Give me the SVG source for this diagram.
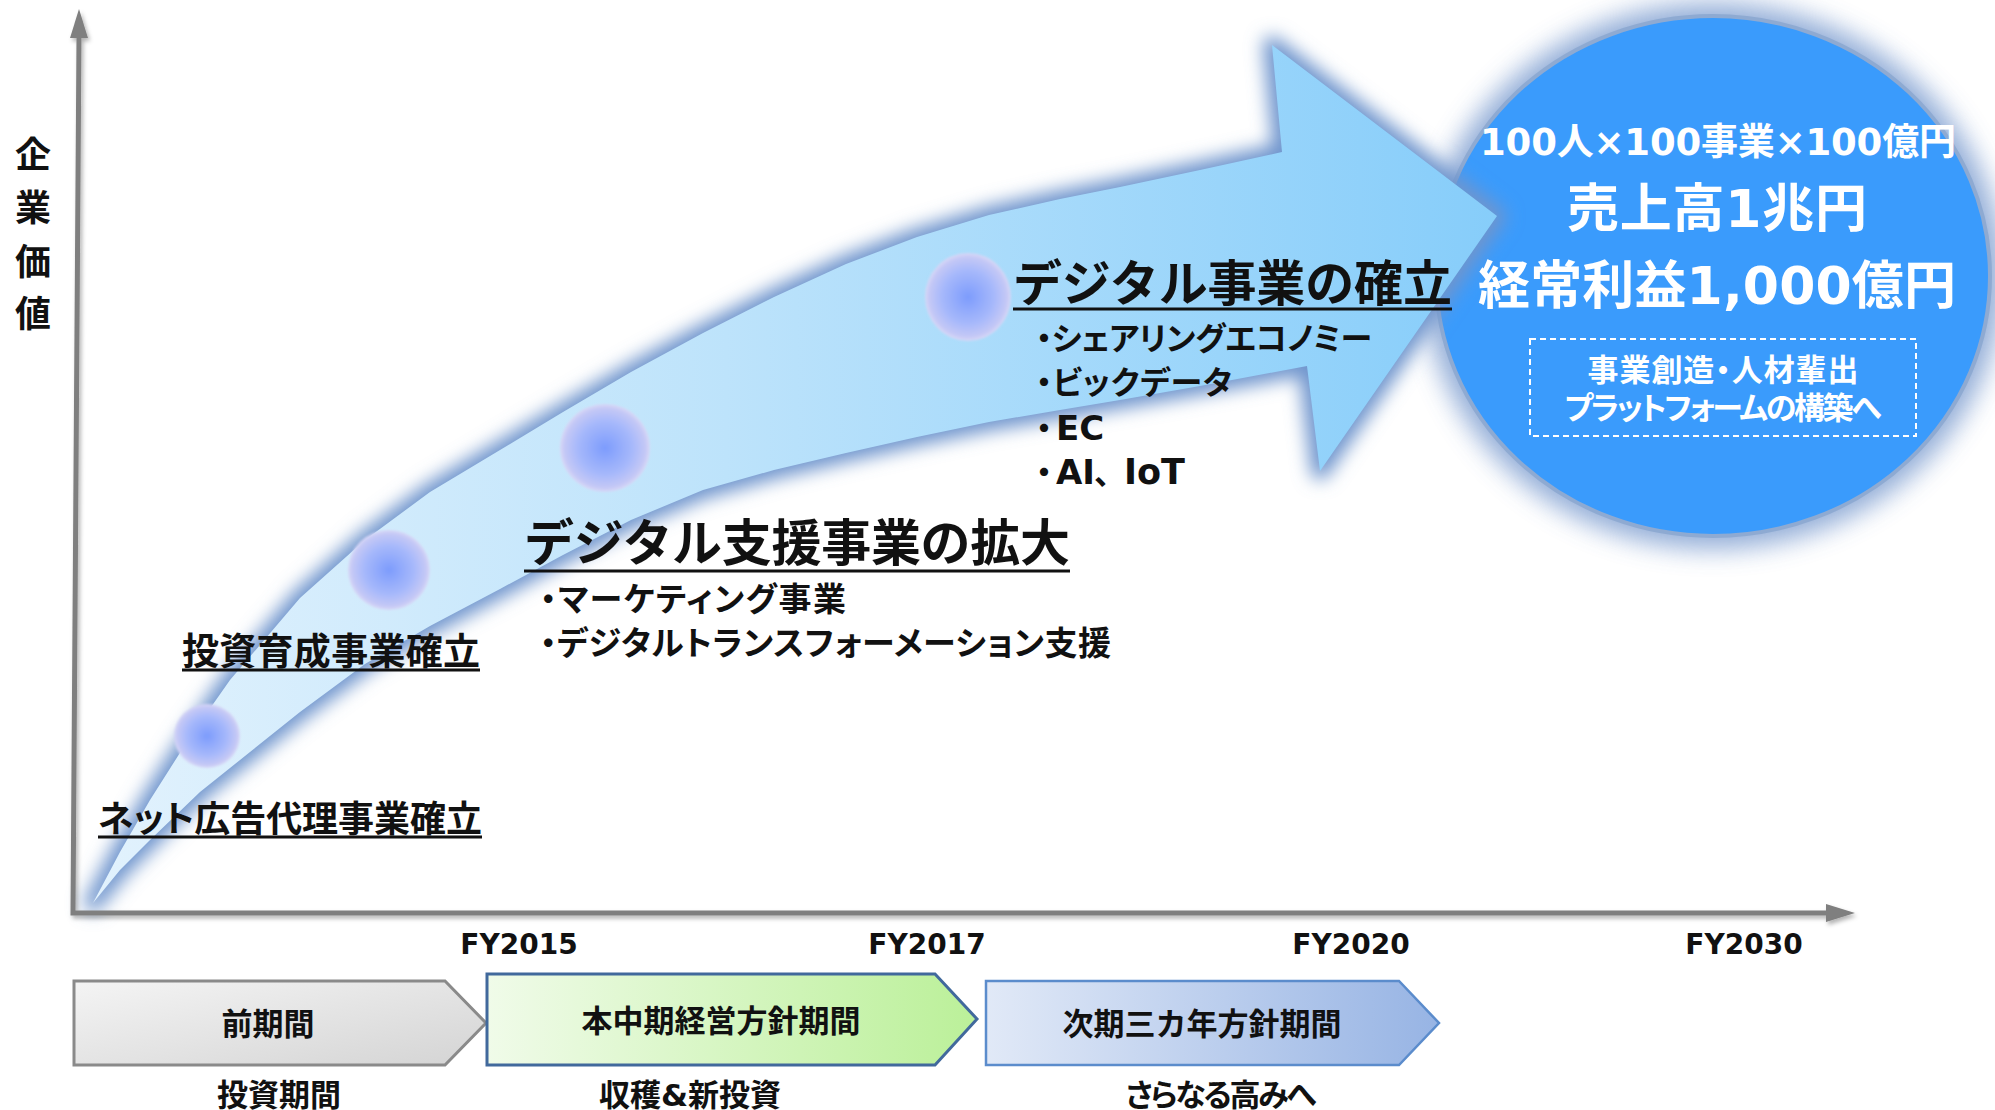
<svg xmlns="http://www.w3.org/2000/svg" width="1995" height="1110" viewBox="0 0 1995 1110">
<defs>
<style>
.t{font-family:'DejaVu Sans','Noto Sans CJK JP',sans-serif;font-weight:700;fill:#111}
.p{font-feature-settings:"palt" 1}
.w{fill:#fff}
.m{text-anchor:middle}
.ul{stroke:#111;stroke-width:3}
.ax{stroke:#7f7f7f;stroke-width:5;fill:none}
.orb{fill:url(#orbGrad)}
</style>
<filter id="blur12" x="-20%" y="-20%" width="140%" height="140%"><feGaussianBlur stdDeviation="13"/></filter>
<filter id="blur9" x="-20%" y="-20%" width="140%" height="140%"><feGaussianBlur stdDeviation="9"/></filter>
<filter id="soft" x="-20%" y="-20%" width="140%" height="140%"><feGaussianBlur stdDeviation="1.2"/></filter>
<filter id="shadow" x="-5%" y="-5%" width="110%" height="110%"><feDropShadow dx="2" dy="3" stdDeviation="2" flood-color="#000" flood-opacity="0.3"/></filter>
<linearGradient id="bandGrad" gradientUnits="userSpaceOnUse" x1="93" y1="0" x2="1500" y2="0">
<stop offset="0" stop-color="#e2f2fd"/>
<stop offset="0.45" stop-color="#bde3fb"/>
<stop offset="1" stop-color="#86cdfa"/>
</linearGradient>
<radialGradient id="orbGrad">
<stop offset="0" stop-color="#7d9cfd"/>
<stop offset="0.6" stop-color="#a6b8fb"/>
<stop offset="0.9" stop-color="#c4c8f6"/>
<stop offset="1" stop-color="#d8d8f6"/>
</radialGradient>
<linearGradient id="grayGrad" x1="0" y1="0" x2="1" y2="1">
<stop offset="0" stop-color="#f4f4f4"/>
<stop offset="1" stop-color="#d4d4d4"/>
</linearGradient>
<linearGradient id="greenGrad" x1="0" y1="0" x2="1" y2="0">
<stop offset="0" stop-color="#f0fbe9"/>
<stop offset="1" stop-color="#bbf099"/>
</linearGradient>
<linearGradient id="blueGrad" x1="0" y1="0" x2="1" y2="0">
<stop offset="0" stop-color="#e1e9f7"/>
<stop offset="1" stop-color="#97b4e4"/>
</linearGradient>
<path id="band" d="M93,903 L120,852 L150,800 L190,737 L230,680 L300,598 L365,540 L430,492 L500,450 L563,412 L631,372 L703,333 L774,297 L846,264 L917,237 L989,215 L1060,199 L1120,187 L1200,170 L1282,152 L1272,45 L1497,216 L1320,471 L1307,366 L1200,386 L1120,400 L1060,410 L989,422 L917,437 L846,453 L774,470 L703,490 L631,520 L563,555 L500,589 L430,626 L365,664 L300,712 L250,752 L200,792 L150,840 L120,870 Z"/>
</defs>
<rect width="1995" height="1110" fill="#fff"/>

<g id="goal">
<ellipse cx="1713" cy="276" rx="290" ry="273" fill="#7f9fd0" opacity="0.85" filter="url(#blur12)"/>
<ellipse cx="1713" cy="276" rx="277" ry="260" fill="#3a9bfc" stroke="#8eaad2" stroke-width="4"/>
</g>

<g id="growth-arrow">
<use href="#band" fill="#6f95cd" stroke="#6f95cd" stroke-width="18" stroke-linejoin="round" filter="url(#blur9)"/>
<use href="#band" fill="url(#bandGrad)"/>
</g>

<g id="connectors" filter="url(#shadow)">
<path class="ax" d="M79,36 L73,913 L1828,913"/>
<polygon points="79,9 70,38 88,38" fill="#7f7f7f"/>
<polygon points="1855,913 1826,904 1826,922" fill="#7f7f7f"/>
</g>

<g id="orbs" filter="url(#soft)">
<ellipse class="orb" cx="207" cy="736" rx="33" ry="32"/>
<ellipse class="orb" cx="389" cy="570" rx="41" ry="40"/>
<ellipse class="orb" cx="605" cy="448" rx="45" ry="44"/>
<ellipse class="orb" cx="968" cy="297" rx="43" ry="44"/>
</g>

<g id="y-label">
<text class="t m" x="33" y="168" font-size="36">企</text>
<text class="t m" x="33" y="221" font-size="36">業</text>
<text class="t m" x="33" y="275" font-size="36">価</text>
<text class="t m" x="33" y="327" font-size="36">値</text>
</g>

<g id="fy-labels">
<text class="t m" x="519" y="954" font-size="28">FY2015</text>
<text class="t m" x="927" y="954" font-size="28">FY2017</text>
<text class="t m" x="1351" y="954" font-size="28">FY2020</text>
<text class="t m" x="1744" y="954" font-size="28">FY2030</text>
</g>

<g id="milestone-1">
<text class="t p" x="98" y="832" font-size="36" textLength="384">ネット広告代理事業確立</text>
<line class="ul" x1="98" y1="837" x2="482" y2="837"/>
</g>
<g id="milestone-2">
<text class="t" x="182" y="665" font-size="37" textLength="298">投資育成事業確立</text>
<line class="ul" x1="182" y1="670" x2="480" y2="670"/>
</g>
<g id="milestone-3">
<text class="t" x="524" y="561" font-size="50" textLength="546">デジタル支援事業の拡大</text>
<line class="ul" x1="524" y1="571" x2="1070" y2="571"/>
<text class="t p" x="540" y="611" font-size="33" textLength="306">・マーケティング事業</text>
<text class="t p" x="540" y="655" font-size="33" textLength="571">・デジタルトランスフォーメーション支援</text>
</g>
<g id="milestone-4">
<text class="t" x="1013" y="301" font-size="49" textLength="439">デジタル事業の確立</text>
<line class="ul" x1="1013" y1="309" x2="1452" y2="309"/>
<text class="t p" x="1036" y="350" font-size="32" textLength="336">・シェアリングエコノミー</text>
<text class="t p" x="1036" y="394" font-size="32" textLength="196">・ビックデータ</text>
<text class="t p" x="1036" y="440" font-size="32">・<tspan x="1056" font-size="34">EC</tspan></text>
<text class="t p" x="1036" y="484" font-size="32">・<tspan x="1056" font-size="34">AI</tspan><tspan x="1094">、</tspan><tspan x="1124" font-size="35">IoT</tspan></text>
</g>

<g id="goal-text">
<text class="t w m" x="1718" y="155" font-size="37" textLength="476">100人×100事業×100億円</text>
<text class="t w m" x="1717" y="227" font-size="52" textLength="300">売上高1兆円</text>
<text class="t w m" x="1717" y="304" font-size="52" textLength="478">経常利益1,000億円</text>
<rect x="1530" y="339" width="386" height="97" fill="none" stroke="#fff" stroke-width="2" stroke-dasharray="6 4"/>
<text class="t w m p" x="1723" y="381" font-size="31" textLength="271">事業創造・人材輩出</text>
<text class="t w m p" x="1723" y="419" font-size="31" textLength="317">プラットフォームの構築へ</text>
</g>

<g id="phase-1">
<polygon points="74,981 445,981 486,1023 445,1065 74,1065" fill="url(#grayGrad)" stroke="#8a8a8a" stroke-width="3"/>
<text class="t m" x="268" y="1035" font-size="31">前期間</text>
<text class="t m" x="279" y="1106" font-size="31">投資期間</text>
</g>
<g id="phase-2">
<polygon points="487,974 935,974 977,1019 935,1065 487,1065" fill="url(#greenGrad)" stroke="#41699c" stroke-width="3"/>
<text class="t m" x="721" y="1032" font-size="31">本中期経営方針期間</text>
<text class="t m" x="690" y="1106" font-size="31">収穫&amp;新投資</text>
</g>
<g id="phase-3">
<polygon points="986,981 1399,981 1439,1023 1399,1065 986,1065" fill="url(#blueGrad)" stroke="#5b8ccc" stroke-width="2.5"/>
<text class="t m" x="1202" y="1035" font-size="31">次期三カ年方針期間</text>
<text class="t m p" x="1221" y="1106" font-size="31" textLength="191">さらなる高みへ</text>
</g>
</svg>
